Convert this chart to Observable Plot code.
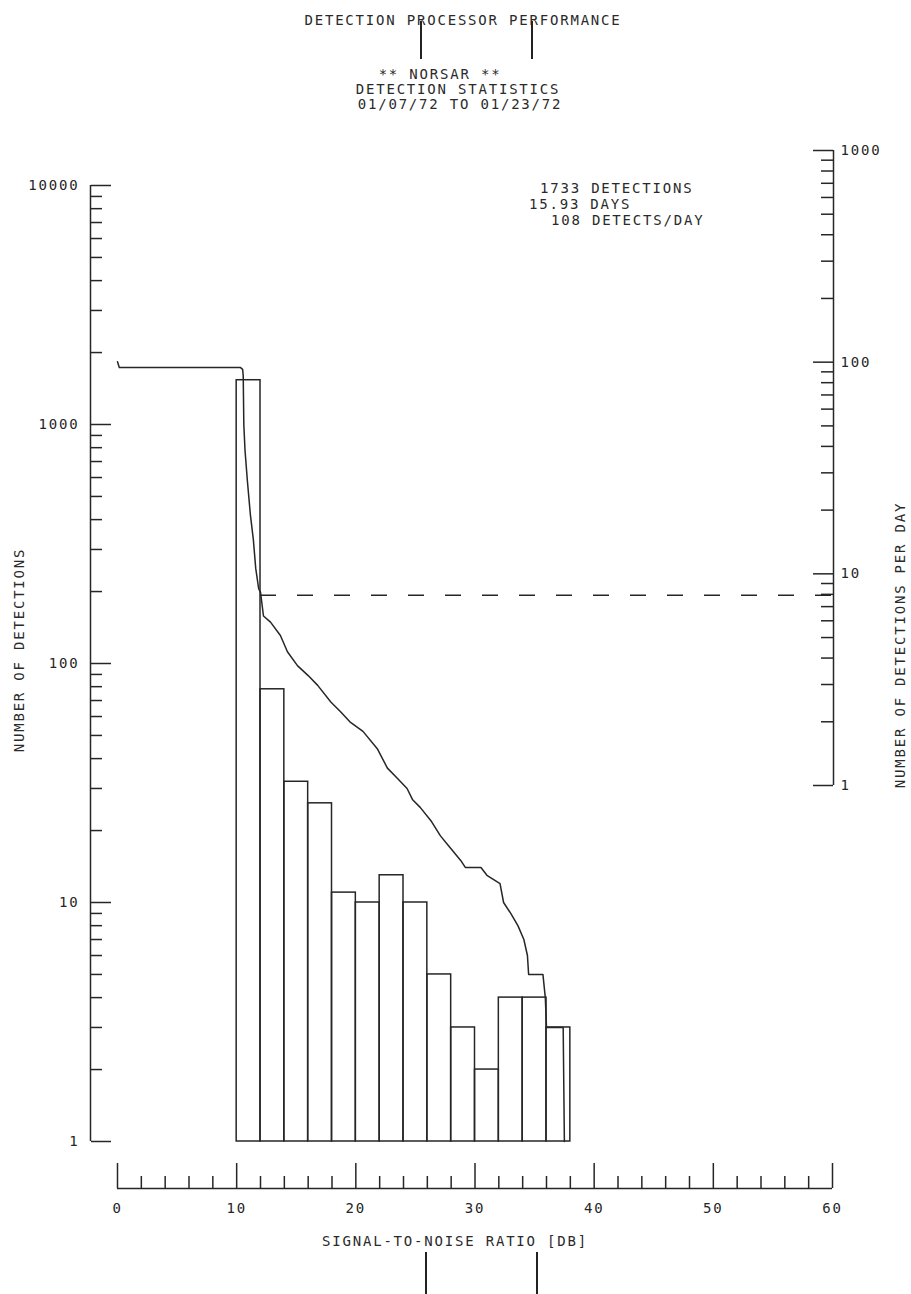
<!DOCTYPE html>
<html>
<head>
<meta charset="utf-8">
<script src="https://cdn.jsdelivr.net/npm/d3@7"></script>
<script src="https://cdn.jsdelivr.net/npm/@observablehq/plot@0.6"></script>
<style>
  html, body { margin: 0; padding: 0; background: #fff; }
  #page { position: relative; width: 911px; height: 1294px; overflow: hidden; background: #fff; }
  #page svg { position: absolute; left: 0; top: 0; }
  .t { position: absolute; font-family: "DejaVu Sans Mono", monospace; font-size: 14px; letter-spacing: 1.8px;
       color: #2a2a2a; white-space: pre; line-height: 1; }
  .c { transform: translate(-50%, -50%); }
  .l { transform: translate(0, -50%); }
  .rot { transform: translate(-50%, -50%) rotate(-90deg); }
  .mark { position: absolute; width: 2px; background: #222; }
</style>
</head>
<body>
<div id="page">
  <div class="t c" style="left:463px; top:20px;">DETECTION PROCESSOR PERFORMANCE</div>
  <div class="mark" style="left:420px; top:21px; height:38px;"></div>
  <div class="mark" style="left:531px; top:21px; height:38px;"></div>
  <div class="t c" style="left:440px; top:74px;">** NORSAR **</div>
  <div class="t c" style="left:458px; top:89px;">DETECTION STATISTICS</div>
  <div class="t c" style="left:460px; top:104px;">01/07/72 TO 01/23/72</div>
  <div class="t l" style="left:540px; top:188px;">1733 DETECTIONS</div>
  <div class="t l" style="left:529px; top:204px;">15.93 DAYS</div>
  <div class="t l" style="left:551px; top:220px;">108 DETECTS/DAY</div>
  <div class="t rot" style="left:19px; top:650px;">NUMBER OF DETECTIONS</div>
  <div class="t rot" style="left:900px; top:645px;">NUMBER OF DETECTIONS PER DAY</div>
  <div class="t c" style="left:455px; top:1241px;">SIGNAL-TO-NOISE RATIO [DB]</div>
  <div class="mark" style="left:425px; top:1252px; height:42px;"></div>
  <div class="mark" style="left:536px; top:1252px; height:42px;"></div>
</div>
<script>
// ---- data ----
const binLow    = [10, 12, 14, 16, 18, 20, 22, 24, 26, 28, 30, 32, 34, 36];
const binHigh   = [12, 14, 16, 18, 20, 22, 24, 26, 28, 30, 32, 34, 36, 38];
const binCounts = [1532, 78, 32, 26, 11, 10, 13, 10, 5, 3, 2, 4, 4, 3];

// cumulative number of detections with SNR >= x
const cumSnr   = [0, 0.15, 10.3, 10.5, 10.55, 10.6, 10.7, 10.9, 11.15, 11.4, 11.6, 11.85, 12.0, 12.25, 12.84, 13.67, 14.26, 15.1, 16.0, 16.8, 17.9, 18.7, 19.5, 20.6, 21.8, 22.65, 23.5, 24.3, 24.75, 25.4, 26.3, 27.1, 27.9, 28.8, 29.2, 30.5, 31.0, 32.1, 32.4, 33.0, 33.6, 34.1, 34.4, 34.5, 35.7, 35.9, 36.0, 37.4, 37.5];
const cumCount = [1830, 1733, 1733, 1700, 1600, 1000, 780, 580, 420, 330, 250, 205, 199, 158, 149, 131, 112, 98, 89, 81, 69, 63, 57, 52, 44, 36.5, 33, 30, 27, 25, 22, 19, 17, 15, 14, 14, 13, 12, 10, 9, 8, 7, 6, 5, 5, 4, 3, 3, 1];

const thresholdCount = 193;   // dashed level
const thresholdFrom  = 12;    // dB where dashed line starts

const xDomain      = [0, 60];
const xMajorTicks  = [0, 10, 20, 30, 40, 50, 60];
const xMinorTicks  = [2, 4, 6, 8, 12, 14, 16, 18, 22, 24, 26, 28, 32, 34, 36, 38, 42, 44, 46, 48, 52, 54, 56, 58];

const leftDomain      = [1, 10000];
const leftMajorTicks  = [1, 10, 100, 1000, 10000];
const leftMinorTicks  = [2,3,4,5,6,7,8,9, 20,30,40,50,60,70,80,90, 200,300,400,500,600,700,800,900, 2000,3000,4000,5000,6000,7000,8000,9000];

const rightDomain     = [1, 1000];
const rightMajorTicks = [1, 10, 100, 1000];
const rightMinorTicks = [2,3,4,5,6,7,8,9, 20,30,40,50,60,70,80,90, 200,300,400,500,600,700,800,900];

// ---- styling ----
const ink = "#262626";
const sw = 1.5;
const baseStyle = {background: "transparent", color: ink, fontFamily: "DejaVu Sans Mono, monospace", fontSize: "14px", letterSpacing: "1.8px", overflow: "visible"};
const W = 911, H = 1294;
const page = document.getElementById("page");
const blank = () => "";

const bars = binLow.map((lo, i) => ({lo, hi: binHigh[i], n: binCounts[i]}));
const cum = cumSnr.map((s, i) => ({snr: s, n: cumCount[i]}));

// main panel: histogram, cumulative curve, dashed level
const main = Plot.plot({
  width: W, height: H,
  marginTop: 185, marginBottom: 153, marginLeft: 117, marginRight: 79,
  style: baseStyle,
  x: {domain: xDomain, axis: null},
  y: {type: "log", domain: leftDomain, axis: null},
  marks: [
    Plot.rectY(bars, {x1: "lo", x2: "hi", y1: 1, y2: "n", fill: "none", stroke: ink, strokeWidth: sw}),
    Plot.line(cum, {x: "snr", y: "n", stroke: ink, strokeWidth: sw}),
    Plot.ruleY([thresholdCount], {x1: thresholdFrom, x2: xDomain[1], stroke: ink, strokeWidth: 1.6, strokeDasharray: "16,21"})
  ]
});

// left axis (ticks inward, labels outside)
const leftAxis = Plot.plot({
  width: W, height: H,
  marginTop: 185, marginBottom: 153, marginLeft: 90, marginRight: W - 90,
  style: baseStyle,
  x: {domain: [0, 1], axis: null},
  y: {type: "log", domain: leftDomain},
  marks: [
    Plot.ruleX([0], {stroke: ink, strokeWidth: sw}),
    Plot.axisY({anchor: "left", ticks: leftMajorTicks, tickSize: 0, tickPadding: 11, tickFormat: d => String(d), label: null}),
    Plot.axisY({anchor: "right", ticks: leftMajorTicks, tickSize: 20, tickFormat: blank, label: null, strokeWidth: sw}),
    Plot.axisY({anchor: "right", ticks: leftMinorTicks, tickSize: 11, tickFormat: blank, label: null, strokeWidth: sw})
  ]
});

// right axis: detections per day
const rightAxis = Plot.plot({
  width: W, height: H,
  marginTop: 150, marginBottom: H - 785, marginLeft: 833, marginRight: W - 833,
  style: baseStyle,
  x: {domain: [0, 1], axis: null},
  y: {type: "log", domain: rightDomain},
  marks: [
    Plot.ruleX([0], {stroke: ink, strokeWidth: sw}),
    Plot.axisY({anchor: "right", ticks: rightMajorTicks, tickSize: 0, tickPadding: 7, tickFormat: d => String(d), label: null}),
    Plot.axisY({anchor: "left", ticks: rightMajorTicks, tickSize: 20, tickFormat: blank, label: null, strokeWidth: sw}),
    Plot.axisY({anchor: "left", ticks: rightMinorTicks, tickSize: 12, tickFormat: blank, label: null, strokeWidth: sw})
  ]
});

// bottom axis: SNR
const bottomAxis = Plot.plot({
  width: W, height: H,
  marginTop: 1163, marginBottom: H - 1188, marginLeft: 117, marginRight: 79,
  style: baseStyle,
  x: {domain: xDomain},
  y: {domain: [0, 1], axis: null},
  marks: [
    Plot.ruleY([0], {stroke: ink, strokeWidth: sw}),
    Plot.tickX(xMajorTicks, {x: d => d, stroke: ink, strokeWidth: sw}),
    Plot.tickX(xMinorTicks, {x: d => d, insetTop: 13, stroke: ink, strokeWidth: sw}),
    Plot.axisX({anchor: "bottom", ticks: xMajorTicks, tickSize: 0, tickPadding: 15, label: null})
  ]
});

for (const el of [main, leftAxis, rightAxis, bottomAxis]) page.appendChild(el);
</script>
</body>
</html>
